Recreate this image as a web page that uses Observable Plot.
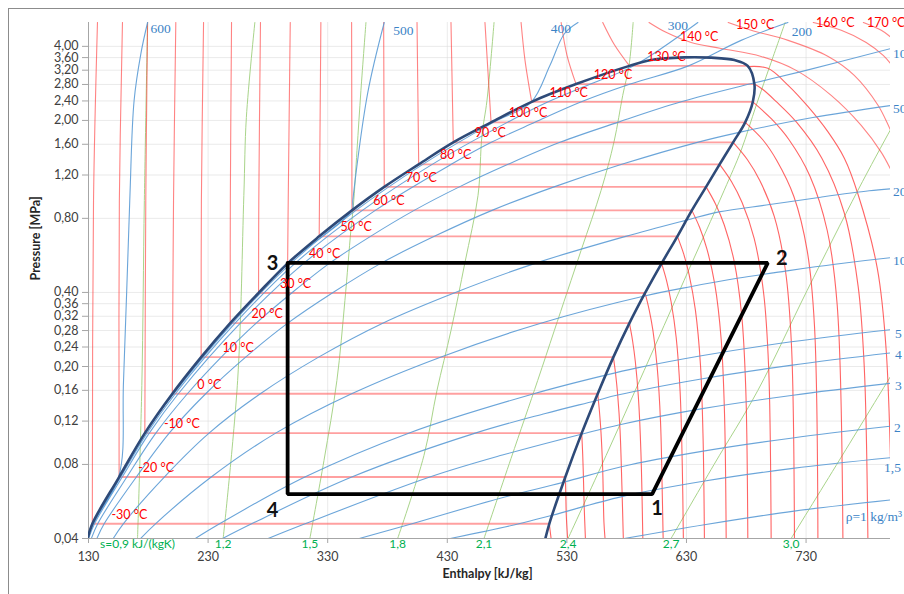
<!DOCTYPE html>
<html><head><meta charset="utf-8">
<script src="https://cdn.jsdelivr.net/npm/d3@7"></script>
<script src="https://cdn.jsdelivr.net/npm/@observablehq/plot@0.6"></script>
<style>
html,body{margin:0;padding:0;background:#fff;}
#wrap{position:relative;width:904px;height:594px;overflow:hidden;}
#frame{position:absolute;left:8px;top:8px;width:1000px;height:1000px;border-left:1px solid #8c8c8c;border-top:1px solid #8c8c8c;pointer-events:none;}
</style></head><body>
<div id="wrap"><div id="chart"></div><div id="frame"></div></div>
<script>
// ---------- axis ticks ----------
const X_TICKS = [130,230,330,430,530,630,730];
const Y_TICKS = [0.04,0.08,0.12,0.16,0.20,0.24,0.28,0.32,0.36,0.40,0.80,1.20,1.60,2.00,2.40,2.80,3.20,3.60,4.00];

// ---------- saturation (per temperature) ----------
const TEMPS = [-30,-20,-10,0,10,20,30,40,50,60,70,80,90,100,110,120,130];
const PSAT  = [0.0459,0.0711,0.1072,0.155,0.2183,0.300,0.398,0.525,0.676,0.862,1.074,1.326,1.629,1.964,2.380,2.810,3.332];
const HLIQ  = [133.2,155.6,177.1,200.1,224.2,248.5,272.2,296.5,322.9,350.3,377.3,406.1,435.0,466.6,500.6,537.7,582.3];
const HVAP  = [515.3,528.7,542.4,555.8,568.9,582.3,595.4,609.2,622.4,634.5,646.4,657.7,669.0,679.1,685.5,686.8,681.2];
const DOME_START = [128.8,0.039];
const DOME_TOP = [[600.4,3.518],[628.3,3.608],[650.6,3.598],[670.1,3.518]];
const DOME_END = [511.2,0.0385];

// ---------- isotherms: liquid branch (aligned with TEMPS) ----------
const LIQ_ISO = [
 [[133.2,0.0459],[134.2,0.946],[137.5,5]],
 [[155.6,0.0711],[155.8,0.946],[158.4,5]],
 [[177.1,0.1072],[177.9,0.946],[179.4,5]],
 [[200.1,0.155],[201.1,0.946],[203.0,5]],
 [[224.2,0.2183],[224.4,0.946],[226.2,5]],
 [[248.5,0.300],[248.6,0.946],[249.6,5]],
 [[272.2,0.398],[272.4,0.946],[273.8,5]],
 [[296.5,0.525],[297.0,0.946],[298.7,5]],
 [[322.9,0.676],[324.3,5]],
 [[350.3,0.862],[350.0,5]],
 [[377.3,1.074],[376.8,5]],
 [[406.1,1.326],[404.7,5]],
 [[435.0,1.629],[433.1,5]],
 [[466.6,1.964],[461.5,5]],
 [[500.6,2.380],[495.0,3.51],[491.7,5]],
 [[537.7,2.810],[530.1,3.68],[525.2,5]],
 [[582.3,3.332],[569.5,4.08],[560.0,5]]
];
// ---------- isotherms: vapour branch (aligned with TEMPS) ----------
const SUP_ISO = [
 [[515.3,0.0459],[516.8,0.04]],
 [[528.7,0.0711],[529.1,0.0604],[529.5,0.0498],[530.6,0.04]],
 [[542.4,0.1072],[543.1,0.0911],[543.7,0.075],[544.5,0.0536],[545.5,0.04]],
 [[555.8,0.155],[557.2,0.1318],[558.5,0.1085],[559.9,0.0775],[561.0,0.0465],[561.9,0.04]],
 [[568.9,0.2183],[570.8,0.1856],[572.5,0.1528],[574.5,0.1092],[576.0,0.0655],[577.2,0.04]],
 [[582.3,0.300],[584.9,0.255],[587.2,0.21],[589.8,0.15],[591.9,0.09],[593.5,0.04]],
 [[595.4,0.398],[598.9,0.338],[602.0,0.279],[605.5,0.199],[608.3,0.1194],[609.8,0.0597],[610.5,0.04]],
 [[609.2,0.525],[613.4,0.446],[617.1,0.3675],[621.4,0.2625],[624.7,0.1575],[626.5,0.0788],[627.4,0.04]],
 [[622.4,0.676],[627.6,0.575],[632.2,0.473],[637.5,0.338],[641.7,0.203],[643.9,0.1014],[645.0,0.04]],
 [[634.5,0.862],[641.1,0.733],[647.0,0.603],[653.7,0.431],[659.0,0.2586],[661.8,0.1293],[663.2,0.04]],
 [[646.4,1.074],[654.4,0.913],[661.6,0.752],[669.8,0.537],[676.2,0.322],[679.6,0.161],[681.3,0.04]],
 [[657.7,1.326],[667.7,1.127],[676.5,0.928],[686.6,0.663],[694.5,0.398],[698.7,0.199],[700.8,0.04]],
 [[669.0,1.629],[681.0,1.385],[691.3,1.140],[703.4,0.8145],[712.8,0.489],[717.8,0.244],[720.3,0.04]],
 [[679.1,1.964],[693.8,1.669],[705.5,1.375],[719.8,0.982],[731.0,0.589],[737.0,0.295],[739.9,0.04]],
 [[685.5,2.380],[701.3,2.023],[715.9,1.666],[733.2,1.19],[747.7,0.714],[756.0,0.357],[760.8,0.04]],
 [[686.8,2.810],[693.9,2.67],[704.9,2.389],[722.0,1.967],[743.2,1.405],[761.9,0.843],[773.6,0.4215],[778.7,0.197],[781.7,0.04]],
 [[681.3,3.31],[698.0,3.256],[714.8,2.785],[731.5,2.28],[748.2,1.80],[762.1,1.402],[773.5,1.0],[789.6,0.5],[797.0,0.233],[802.0,0.04]]
];
// ---------- supercritical isotherms ----------
const SC_TEMPS = [140,150,160,170];
const SC_ISO = [
 [[598.7,5.0],[612.9,4.56],[633.9,4.15],[659.0,3.92],[692.4,3.64],[721.7,3.195],[751.0,2.528],[776.1,1.909],[792.9,1.483],[801.2,1.253],[809.6,1.039]],
 [[664.9,5.0],[684.1,4.65],[715.0,4.23],[748.5,3.64],[770.3,3.05],[790.3,2.30],[801.2,1.805],[809.6,1.511]],
 [[736.0,5.0],[759.4,4.65],[780.3,4.15],[794.5,3.676],[801.2,3.38],[809.6,2.96]],
 [[777.9,5.0],[792.9,4.65],[801.2,4.35],[809.6,4.04]]
];
const SC_LABEL_H = [640.6,687.4,754.4,797.0];
const SC_LABEL_P = [4.35,4.87,5.0,5.0];

// ---------- isentropes ----------
const S_LABELS = ["s=0,9 kJ/(kgK)","1,2","1,5","1,8","2,1","2,4","2,7","3,0"];
const S_LINES = [
 [[171.0,0.04],[174.6,0.1675],[176.7,0.946],[179.4,5]],
 [[242.6,0.04],[254.7,0.1755],[259.9,0.992],[262.0,2.058],[269.1,5]],
 [[315.1,0.04],[326.9,0.083],[337.7,0.1755],[344.4,0.371],[349.4,0.715],[351.5,0.903],[354.5,1.511],[357.8,2.65],[362.0,5]],
 [[388.5,0.04],[410.5,0.087],[421.4,0.16],[433.1,0.28],[444.8,0.53],[455.7,0.992],[459.0,1.739],[463.2,2.413],[469.1,5]],
 [[460.7,0.04],[483.3,0.0846],[505.6,0.1755],[519.5,0.28],[541.9,0.593],[558.6,1.039],[569.5,1.644],[576.7,2.528],[582.0,3.349],[585.4,5]],
 [[531.0,0.04],[562.8,0.087],[594.6,0.1927],[628.0,0.4477],[661.5,1.039],[675.7,1.511],[688.3,2.302],[700.8,3.444],[712.5,5]],
 [[617.1,0.04],[653.1,0.08],[689.7,0.16],[730.9,0.4075],[773.3,1.039],[801.2,1.857],[809.6,2.2]],
 [[717.5,0.04],[757.7,0.083],[801.2,0.184],[809.6,0.214]]
];

// ---------- isochores (density, kg/m3) ----------
const RHO_LABELS = ["600","500","400","300","200","100","50","20","10","5","4","3","2","1,5","ρ=1 kg/m³"];
const RHO_LINES = [
 [[128.6,0.04],[133.2,0.0459],[155.2,0.0711],[159.3,0.1755],[164.5,0.945],[168.1,2.40],[173.8,3.74],[179.4,5.0]],
 [[128.6,0.04],[133.3,0.0459],[155.7,0.0711],[177.2,0.1072],[200.5,0.155],[249.0,0.300],[297.0,0.525],[350.4,0.862],[351.0,0.945],[363.4,2.576],[377.3,5.0]],
 [[128.7,0.04],[133.7,0.0459],[155.8,0.0711],[177.3,0.1072],[201.3,0.155],[250.4,0.300],[299.2,0.525],[353.6,0.862],[409.5,1.326],[468.6,1.964],[499.8,2.36],[515.9,3.35],[527.9,4.5],[539.3,5.0]],
 [[128.9,0.04],[134.1,0.0459],[156.9,0.0711],[178.9,0.1072],[202.6,0.155],[252.6,0.300],[302.7,0.525],[359.0,0.862],[417.4,1.326],[480.2,1.964],[514.4,2.380],[549.7,2.810],[585.8,3.332],[639.5,5.0]],
 [[130.1,0.04],[135.0,0.0459],[158.2,0.0711],[180.8,0.1072],[205.1,0.155],[257.0,0.300],[309.9,0.525],[369.8,0.862],[433.3,1.326],[466.8,1.629],[503.2,1.964],[542.1,2.380],[583.0,2.810],[631.7,3.332],[675.7,4.23],[714.8,5.0]],
 [[132.4,0.04],[137.7,0.0459],[162.1,0.0711],[186.3,0.1072],[212.7,0.155],[241.0,0.2183],[270.2,0.300],[299.9,0.398],[331.4,0.525],[365.8,0.676],[402.3,0.862],[440.1,1.074],[480.8,1.326],[524.2,1.629],[572.5,1.964],[625.5,2.380],[682.8,2.810],[725.9,3.157],[801.0,3.92]],
 [[137.0,0.04],[143.1,0.0459],[170.0,0.0711],[197.5,0.1072],[228.0,0.155],[261.4,0.2183],[296.6,0.300],[333.8,0.398],[374.4,0.525],[419.2,0.676],[467.4,0.862],[519.3,1.074],[575.9,1.326],[639.1,1.629],[674.1,1.789],[735.7,2.054],[801.0,2.30]],
 [[150.7,0.04],[159.1,0.0459],[193.4,0.0711],[230.8,0.1072],[273.7,0.155],[322.4,0.2183],[376.0,0.300],[435.7,0.398],[503.4,0.525],[579.2,0.676],[630.0,0.787],[657.1,0.85],[699.6,0.91],[742.2,0.975],[782.8,1.035],[801.0,1.055]],
 [[173.6,0.04],[186.0,0.0459],[232.6,0.0711],[286.5,0.1072],[350.0,0.155],[424.3,0.2183],[508.2,0.300],[594.0,0.3862],[634.3,0.423],[672.4,0.4565],[712.8,0.4883],[754.2,0.5207],[801.0,0.5535]],
 [[219.3,0.04],[239.6,0.0459],[310.9,0.0711],[397.7,0.1072],[502.4,0.155],[562.4,0.1845],[587.8,0.197],[641.2,0.2207],[717.7,0.252],[801.0,0.2825]],
 [[242.1,0.04],[266.4,0.0459],[350.1,0.0711],[453.4,0.1072],[512.0,0.1289],[553.4,0.1449],[572.5,0.1531],[642.3,0.178],[718.5,0.2026],[801.0,0.2271]],
 [[280.2,0.04],[311.1,0.0459],[415.4,0.0711],[476.1,0.0873],[542.0,0.1061],[574.2,0.116],[643.3,0.1348],[719.1,0.1529],[801.0,0.1709]],
 [[356.4,0.04],[400.5,0.0459],[467.6,0.0571],[527.2,0.0677],[575.6,0.0783],[644.0,0.0906],[718.8,0.1025],[801.0,0.1144]],
 [[432.5,0.04],[489.9,0.0459],[517.7,0.0497],[576.0,0.0592],[644.0,0.0683],[719.0,0.0771],[801.0,0.0852]],
 [[578.0,0.04],[645.0,0.0455],[720.0,0.0517],[801.0,0.0574]]
];

// ---------- refrigeration cycle ----------
const CYCLE_LABELS = ["3","4","1","2"];
const CYCLE_H = [296.5,296.5,601.3,698.0];
const CYCLE_P = [0.527,0.0606,0.0606,0.527];

// ================= build =================
const flat = (lists, keys) => lists.flatMap((pts, i) => pts.map(([h, p]) => ({h, p, k: keys[i]})));
const dome = [DOME_START, ...HLIQ.map((h, i) => [h, PSAT[i]]), ...DOME_TOP,
  ...HVAP.map((h, i) => [h, PSAT[i]]).reverse(), DOME_END].map(([h, p]) => ({h, p}));
const cycle = [...CYCLE_H.map((h, i) => ({h, p: CYCLE_P[i]})), {h: CYCLE_H[0], p: CYCLE_P[0]}];
const fmtP = d => d.toFixed(2).replace(".", ",");

const RED = "#ff3030", BLUE = "#5b9bd5", GREEN = "#a9d48a";
const RHO_OFFS = [[13,6,"middle"],[19,8,"middle"],[-17,6,"middle"],[-20,3,"middle"],[14,9,"middle"],
  [2,5,"start"],[2,3,"start"],[2,3,"start"],[2,3,"start"],[4,4,"start"],[4,2,"start"],[4,2,"start"],[3,1,"start"],[10,10,"end"],[11,17,"end"]];
const CYC_OFFS = [[-15,1],[-15,16],[5,14],[14,-4]];
const serif = "'Liberation Serif','DejaVu Serif',serif";

const marks = [
  Plot.gridY(Y_TICKS, {stroke: "#d9d9d9", strokeOpacity: 0.55}),
  Plot.gridX(X_TICKS, {stroke: "#d9d9d9", strokeOpacity: 0.55}),
  Plot.ruleX([130], {stroke: "#a6a6a6"}),
  Plot.ruleY([0.04], {stroke: "#a6a6a6"}),
  Plot.axisY(Y_TICKS, {tickSize: 6, text: null, label: null, stroke: "#a6a6a6"}),
  Plot.text(Y_TICKS, {x: 130, y: d => d, text: fmtP, dx: -10, textAnchor: "end", fill: "#404040", fontSize: 12.5}),
  Plot.axisX(X_TICKS, {tickSize: 5, tickPadding: 9, label: null, stroke: "#a6a6a6", fill: "#404040", fontSize: 12.5}),
  // isentropes
  Plot.line(flat(S_LINES, S_LABELS), {x: "h", y: "p", z: "k", stroke: GREEN, strokeWidth: 1, curve: "catmull-rom", clip: true}),
  // isotherm two-phase lines
  Plot.link(TEMPS, {x1: (d, i) => HLIQ[i], x2: (d, i) => HVAP[i], y1: (d, i) => PSAT[i], y2: (d, i) => PSAT[i],
    stroke: "#ff6060", strokeOpacity: 0.6, strokeWidth: 1.9}),
  // isotherm curves
  Plot.line(flat(LIQ_ISO, TEMPS), {x: "h", y: "p", z: "k", stroke: RED, strokeOpacity: 0.6, strokeWidth: 1.1, curve: "catmull-rom", clip: true}),
  Plot.line(flat(SUP_ISO, TEMPS), {x: "h", y: "p", z: "k", stroke: RED, strokeOpacity: 0.75, strokeWidth: 1.1, curve: "catmull-rom", clip: true}),
  Plot.line(flat(SC_ISO, SC_TEMPS), {x: "h", y: "p", z: "k", stroke: RED, strokeOpacity: 0.6, strokeWidth: 1.1, curve: "catmull-rom", clip: true}),
  // isochores
  Plot.line(flat(RHO_LINES, RHO_LABELS), {x: "h", y: "p", z: "k", stroke: BLUE, strokeOpacity: 0.9, strokeWidth: 1.1, curve: "catmull-rom", clip: true}),
  // saturation dome
  Plot.line(dome, {x: "h", y: "p", stroke: "#2e4a78", strokeWidth: 2.6, curve: "catmull-rom", clip: true}),
  // cycle
  Plot.line(cycle, {x: "h", y: "p", stroke: "#000", strokeWidth: 3.8, strokeLinejoin: "miter"}),
  // isotherm labels
  Plot.text(TEMPS, {x: (d, i) => HLIQ[i], y: (d, i) => PSAT[i], text: d => `${d} °C`, dx: 37, dy: -9, fill: "#ff0000", fontSize: 12.5}),
  Plot.text(SC_TEMPS, {x: (d, i) => SC_LABEL_H[i], y: (d, i) => SC_LABEL_P[i], text: d => `${d} °C`, fill: "#ff0000", fontSize: 12.5}),
  // isentrope labels
  Plot.text(S_LABELS, {x: (d, i) => S_LINES[i][0][0], y: (d, i) => S_LINES[i][0][1], text: d => d, dy: 6, fill: "#00b050", fontSize: 12}),
  // isochore labels
  ...RHO_LABELS.map((lab, i) => {
    const last = RHO_LINES[i][RHO_LINES[i].length - 1];
    const [dx, dy, anchor] = RHO_OFFS[i];
    return Plot.text([lab], {x: () => last[0], y: () => last[1], text: d => d, dx, dy, textAnchor: anchor,
      fill: "#3b83c6", fontSize: 13.5, fontFamily: serif});
  }),
  // cycle point labels
  ...CYCLE_LABELS.map((lab, i) => Plot.text([lab], {x: () => CYCLE_H[i], y: () => CYCLE_P[i], text: d => d,
    dx: CYC_OFFS[i][0], dy: CYC_OFFS[i][1], fontSize: 20, fontWeight: "bold", fill: "#111"})),
  // axis titles
  Plot.text(["Pressure [MPa]"], {frameAnchor: "left", dx: -53, rotate: -90, text: d => d, fontWeight: "bold", fontSize: 12.5, fill: "#262626"}),
  Plot.text(["Enthalpy [kJ/kg]"], {frameAnchor: "bottom", dx: -2, dy: 39, text: d => d, fontWeight: "bold", fontSize: 12.5, fill: "#262626"})
];

const chart = Plot.plot({
  width: 904, height: 594,
  marginLeft: 88, marginRight: 14, marginTop: 22, marginBottom: 56,
  style: {fontFamily: "Lato, 'Open Sans', sans-serif", fontSize: "12.5px", background: "white", color: "#404040"},
  x: {domain: [130, 800.6]},
  y: {type: "log", domain: [0.04, 5]},
  marks
});
document.getElementById("chart").append(chart);
</script>
</body></html>
